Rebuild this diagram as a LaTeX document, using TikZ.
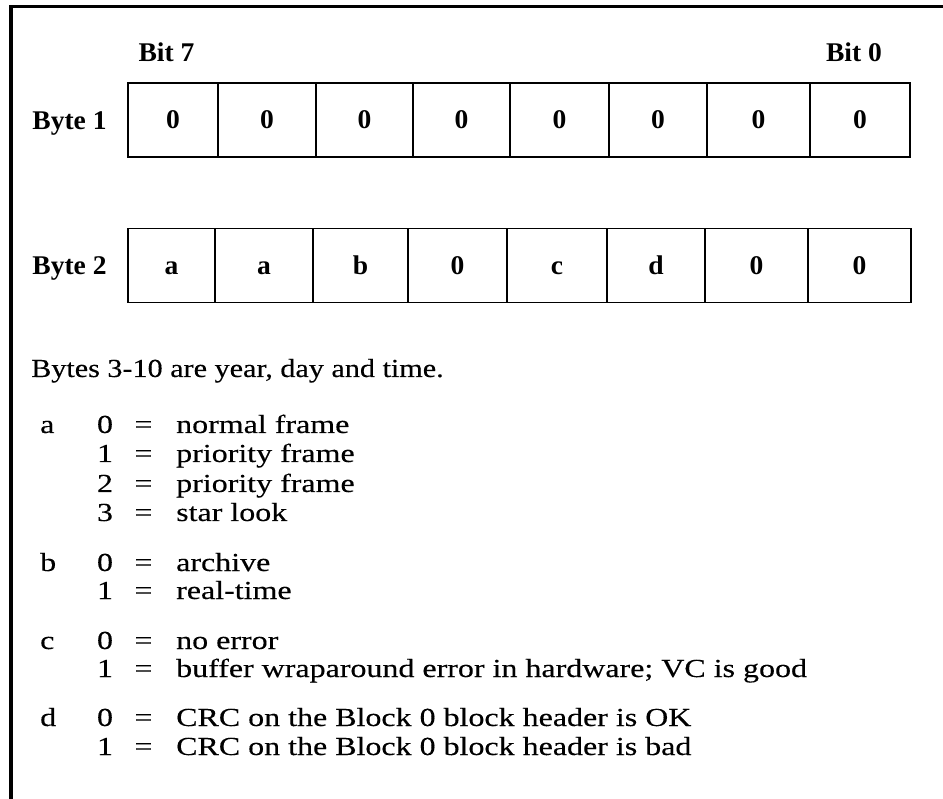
\documentclass[tikz,border=0pt]{standalone}
\usepackage{fontspec}
\setmainfont{Liberation Serif}[FakeStretch=1.23, FakeBold=0.3]
\newfontfamily\tabfont{Liberation Serif}[FakeStretch=1.02]
\newfontfamily\notefont{Liberation Serif}[FakeStretch=1.16, FakeBold=0.3]
\newcommand\legrow[5]{%
  \node[leg] (#1l) at (40,#2) {#3};
  \node[legc] (#1n) at (105,#2) {#4};
  \node[legc] (#1e) at (143.5,#2) {=};
  \node[leg] (#1t) at (176,#2) {#5};}
\newcommand\legrowb[4]{%
  \node[legc] (#1n) at (105,#2) {#3};
  \node[legc] (#1e) at (143.5,#2) {=};
  \node[leg] (#1t) at (176,#2) {#4};}
\begin{document}
\begin{tikzpicture}[x=1pt,y=-1pt,
  tabtext/.style={font=\tabfont\bfseries\fontsize{27}{32}\selectfont, text height=18pt, text depth=0pt, inner sep=0pt},
  cell/.style={tabtext, draw, line width=1.3pt, minimum height=74pt},
  lbl/.style={tabtext},
  leg/.style={inner sep=0pt, anchor=base west, font=\fontsize{26}{30}\selectfont},
  legc/.style={inner sep=0pt, anchor=base, font=\fontsize{26}{30}\selectfont}]
\useasboundingbox (0,0) rectangle (943,799);
\fill[white] (0,0) rectangle (943,799);
% frame
\draw[line width=3.2pt] (11,799) -- (11,6.5) -- (943,6.5);
% bit labels
\node[lbl] (bit7) at (166.5,53) {Bit 7};
\node[lbl] (bit0) at (854,53) {Bit 0};
% byte 1
\node[lbl] (byte1) at (69.5,121) {Byte 1};
\foreach \l/\r/\t [count=\i] in {128/218/0,218/316/0,316/413/0,413/510/0,510/609/0,609/707/0,707/810/0,810/910/0}
  \node[cell, minimum width={(\r-\l)*1pt}] (b1c\i) at ({(\l+\r)/2},120) {\t};
% byte 2
\node[lbl] (byte2) at (69.5,265.5) {Byte 2};
\foreach \l/\r/\t [count=\i] in {128/215/a,215/313/a,313/408/b,408/507/0,507/607/c,607/705/d,705/808/0,808/911/0}
  \node[cell, minimum width={(\r-\l)*1pt}] (b2c\i) at ({(\l+\r)/2},265.5) {\t};
% note
\node[leg, font=\notefont\fontsize{26}{30}\selectfont] (note) at (31,377) {Bytes 3-10 are year, day and time.};
% legend
\legrow{a0}{433}{a}{0}{normal frame}
\legrowb{a1}{462}{1}{priority frame}
\legrowb{a2}{492}{2}{priority frame}
\legrowb{a3}{521}{3}{star look}
\legrow{b0}{571}{b}{0}{archive}
\legrowb{b1}{599}{1}{real-time}
\legrow{c0}{649}{c}{0}{no error}
\legrowb{c1}{677}{1}{buffer wraparound error in hardware; VC is good}
\legrow{d0}{726}{d}{0}{CRC on the Block 0 block header is OK}
\legrowb{d1}{755}{1}{CRC on the Block 0 block header is bad}
\end{tikzpicture}
\end{document}
